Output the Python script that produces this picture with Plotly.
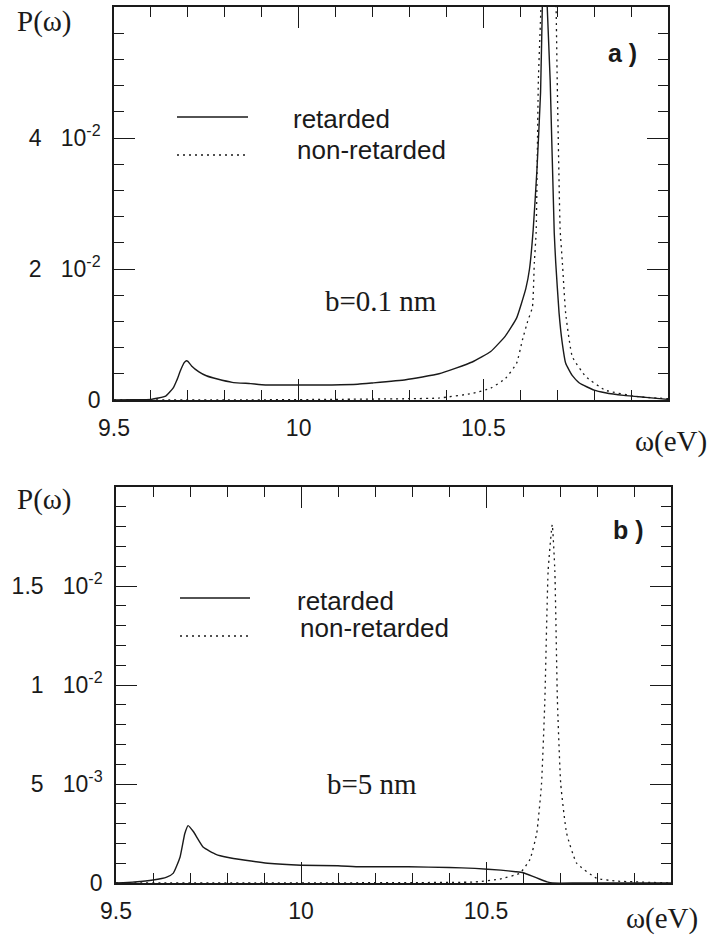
import plotly.graph_objects as go

# ---------------- data ----------------
# panel a) b = 0.1 nm
omega_a_ret = [9.50, 9.55, 9.60, 9.62, 9.64, 9.66, 9.67, 9.68, 9.69, 9.696, 9.70, 9.71,
               9.73, 9.75, 9.78, 9.82, 9.87, 9.91, 10.00, 10.09, 10.16, 10.20, 10.29,
               10.38, 10.47, 10.52, 10.56, 10.59, 10.615, 10.625, 10.635, 10.645, 10.655,
               10.660, 10.666, 10.673, 10.681, 10.692, 10.696, 10.705, 10.713, 10.723,
               10.74, 10.76, 10.80, 10.83, 10.88, 10.94, 11.00]
p_a_ret = [0.0000, 0.00005, 0.0001, 0.0003, 0.0006, 0.0018, 0.0030, 0.0045, 0.0057, 0.0060,
           0.0059, 0.0052, 0.0043, 0.0037, 0.0032, 0.0027, 0.0025, 0.0023, 0.0023, 0.0023,
           0.0024, 0.0026, 0.0031, 0.0040, 0.0058, 0.0074, 0.0098, 0.0125, 0.0170, 0.0200,
           0.0260, 0.0350, 0.0470, 0.0610, 0.0750, 0.0600, 0.0488, 0.0255, 0.0210, 0.0133,
           0.0090, 0.0056, 0.0038, 0.0026, 0.0015, 0.0011, 0.0007, 0.0004, 0.0001]

omega_a_non = [9.50, 9.80, 10.10, 10.30, 10.38, 10.47, 10.52, 10.56, 10.59, 10.606, 10.62,
               10.633, 10.638, 10.643, 10.649, 10.656, 10.665, 10.676, 10.687, 10.697,
               10.700, 10.708, 10.714, 10.723, 10.741, 10.777, 10.83, 10.92, 11.00]
p_a_non = [0.0, 0.0, 0.0001, 0.0002, 0.0003, 0.0010, 0.0018, 0.0033, 0.0056, 0.0092, 0.0120,
           0.0142, 0.0209, 0.0256, 0.0488, 0.0600, 0.0800, 0.0950, 0.0800, 0.0600,
           0.0488, 0.0260, 0.0210, 0.0132, 0.0066, 0.0036, 0.0015, 0.0005, 0.0002]

# panel b) b = 5 nm
omega_b_ret = [9.50, 9.55, 9.60, 9.637, 9.655, 9.673, 9.686, 9.695, 9.709, 9.736, 9.77, 9.80,
               9.85, 9.91, 10.00, 10.10, 10.16, 10.29, 10.40, 10.47, 10.54, 10.58, 10.60,
               10.625, 10.646, 10.665, 10.68, 10.75, 11.00]
p_b_ret = [0.0, 0.00005, 0.00015, 0.0003, 0.0005, 0.0013, 0.0025, 0.0029, 0.0026, 0.0018,
           0.00145, 0.0013, 0.00115, 0.0010, 0.0009, 0.00087, 0.00082, 0.00082, 0.00078,
           0.00074, 0.00065, 0.00057, 0.00052, 0.00035, 0.00019, 0.00006, 0.0, 0.0, 0.0]

omega_b_non = [9.50, 9.90, 10.30, 10.47, 10.538, 10.592, 10.619, 10.637, 10.650, 10.659,
               10.668, 10.679, 10.686, 10.693, 10.702, 10.718, 10.745, 10.799, 10.85, 11.00]
p_b_non = [0.0, 0.0, 0.00002, 0.00005, 0.0002, 0.0005, 0.0012, 0.0025, 0.0050, 0.0092,
           0.0158, 0.0181, 0.0158, 0.0092, 0.0050, 0.0025, 0.0010, 0.00024, 0.0001, 0.0]

x_ticks = [9.5, 10.0, 10.5]
x_tick_text = ["9.5", "10", "10.5"]
ya_ticks = [0.0, 0.02, 0.04]
ya_tick_text = ["0", "2\u00a0\u00a0\u00a010<sup>-2</sup>", "4\u00a0\u00a0\u00a010<sup>-2</sup>"]
yb_ticks = [0.0, 0.005, 0.010, 0.015]
yb_tick_text = ["0", "5\u00a0\u00a0\u00a010<sup>-3</sup>", "1\u00a0\u00a0\u00a010<sup>-2</sup>",
                "1.5\u00a0\u00a0\u00a010<sup>-2</sup>"]

series_names = ["retarded", "non-retarded"]

# ---------------- figure ----------------
W, H = 710, 942
SANS = "Liberation Sans, Arial, Helvetica, sans-serif"
SERIF = "Liberation Serif, Times New Roman, serif"
INK = "#1a1a1a"
DOT = "2px,4px"


def px(x):
    return x / W


def py(y):
    return 1 - y / H


fig = go.Figure()
fig.add_trace(go.Scatter(x=omega_a_ret, y=p_a_ret, mode="lines", name=series_names[0],
                         line=dict(color=INK, width=1.4, shape="spline", smoothing=0.4),
                         xaxis="x", yaxis="y", showlegend=False))
fig.add_trace(go.Scatter(x=omega_a_non, y=p_a_non, mode="lines", name=series_names[1],
                         line=dict(color=INK, width=1.3, dash=DOT, shape="spline", smoothing=0.4),
                         xaxis="x", yaxis="y", showlegend=False))
fig.add_trace(go.Scatter(x=omega_b_ret, y=p_b_ret, mode="lines", name=series_names[0],
                         line=dict(color=INK, width=1.4, shape="spline", smoothing=0.4),
                         xaxis="x2", yaxis="y2", showlegend=False))
fig.add_trace(go.Scatter(x=omega_b_non, y=p_b_non, mode="lines", name=series_names[1],
                         line=dict(color=INK, width=1.3, dash=DOT, shape="spline", smoothing=0.4),
                         xaxis="x2", yaxis="y2", showlegend=False))

common_x = dict(range=[9.5, 11.0], tickvals=x_ticks, ticktext=x_tick_text, ticks="inside",
                ticklen=21, tickwidth=1.2, tickcolor=INK, showline=True, linecolor=INK,
                linewidth=1.5, mirror="allticks", showgrid=False, zeroline=False,
                automargin=False,
                tickfont=dict(family=SANS, size=23, color=INK), ticklabelstandoff=7,
                minor=dict(ticks="inside", ticklen=10, tickwidth=1.1, tickcolor=INK,
                           tick0=9.5, dtick=0.1, showgrid=False))
common_y = dict(ticks="inside", ticklen=21, tickwidth=1.2, tickcolor=INK, showline=True,
                linecolor=INK, linewidth=1.5, mirror="allticks", showgrid=False,
                zeroline=False, automargin=False,
                tickfont=dict(family=SANS, size=23, color=INK),
                ticklabelstandoff=7)

fig.update_layout(
    template="none",
    width=W, height=H, margin=dict(l=0, r=0, t=0, b=0, autoexpand=False),
    paper_bgcolor="white", plot_bgcolor="white", showlegend=False,
    xaxis=dict(domain=[px(114), px(668)], anchor="y", **common_x),
    yaxis=dict(domain=[py(400), py(7)], anchor="x", range=[0, 0.06], tickvals=ya_ticks,
               ticktext=ya_tick_text,
               minor=dict(ticks="inside", ticklen=10, tickwidth=1.1, tickcolor=INK,
                          tick0=0, dtick=0.004, showgrid=False),
               **common_y),
    xaxis2=dict(domain=[px(116), px(671)], anchor="y2", **common_x),
    yaxis2=dict(domain=[py(883), py(487)], anchor="x2", range=[0, 0.02], tickvals=yb_ticks,
                ticktext=yb_tick_text,
                minor=dict(ticks="inside", ticklen=10, tickwidth=1.1, tickcolor=INK,
                           tick0=0, dtick=0.001, showgrid=False),
                **common_y),
)

ann = []


def text(x, y, s, font, anchor="left", h=None):
    a = dict(x=px(x), y=py(y), xref="paper", yref="paper", text=s, showarrow=False,
             xanchor=anchor, yanchor="middle", font=font)
    if h:
        a["height"] = h
    ann.append(a)


serif_lab = dict(family=SERIF, size=29, color=INK)
sans_leg = dict(family=SANS, size=26, color=INK)
bold_lab = dict(family=SANS, size=25, color=INK, weight="bold")

# panel a
text(15, 22, "P(\u03c9)", serif_lab)
text(709, 441, "\u03c9(eV)", serif_lab, anchor="right")
text(323, 301, "b=0.1 nm", dict(family=SERIF, size=29, color=INK))
text(606, 53, "a )", bold_lab)
text(291, 119, series_names[0], sans_leg, h=24)
text(295, 150, series_names[1], sans_leg, h=24)
# panel b
text(15, 499, "P(\u03c9)", serif_lab)
text(700, 918, "\u03c9(eV)", serif_lab, anchor="right")
text(325, 784, "b=5 nm", dict(family=SERIF, size=29, color=INK))
text(611, 530, "b )", bold_lab)
text(295, 601, series_names[0], sans_leg, h=24)
text(298, 628, series_names[1], sans_leg, h=24)

shapes = []
for (x0, x1, y, dash) in [(177, 248, 117, "solid"), (177, 248, 155, DOT),
                          (180, 250, 598, "solid"), (180, 250, 636, DOT)]:
    shapes.append(dict(type="line", xref="paper", yref="paper", x0=px(x0), x1=px(x1),
                       y0=py(y), y1=py(y), line=dict(color=INK, width=1.4, dash=dash)))

fig.update_layout(annotations=ann, shapes=shapes)
fig.write_html("out.html")
